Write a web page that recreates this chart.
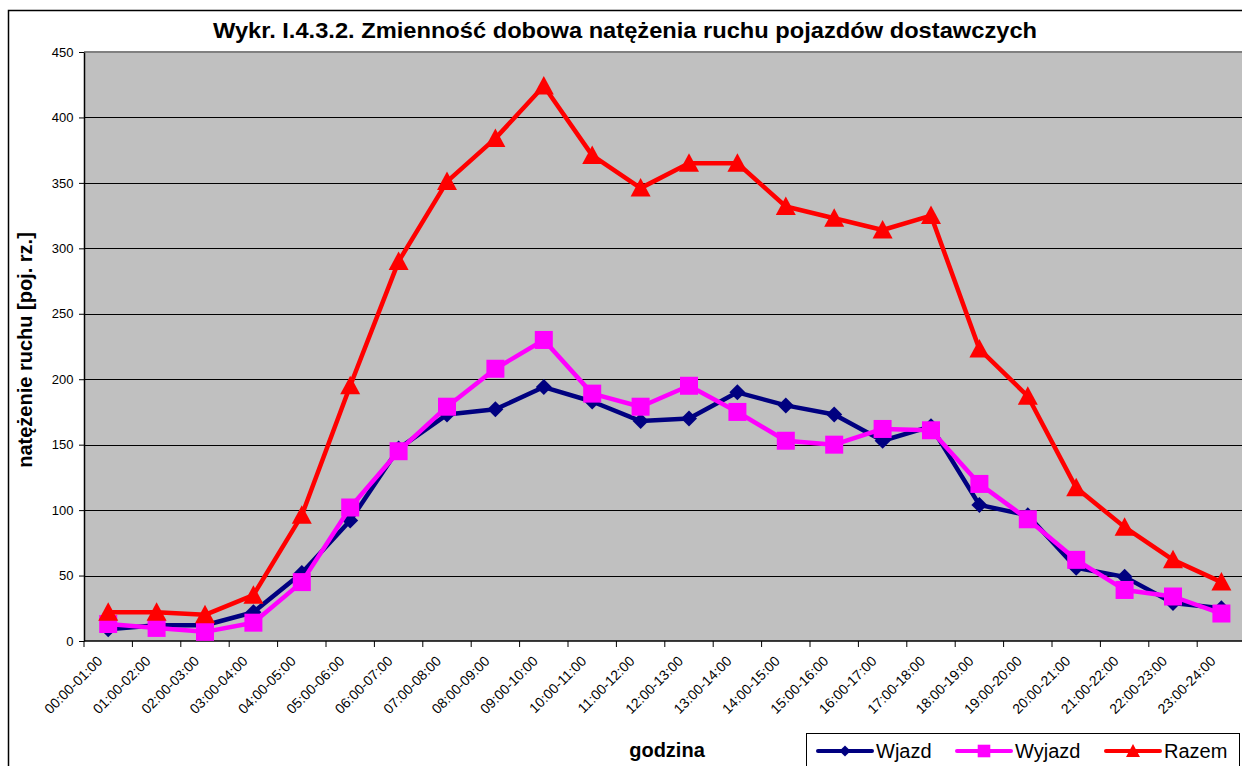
<!DOCTYPE html>
<html>
<head>
<meta charset="utf-8">
<script src="https://cdn.jsdelivr.net/npm/d3@7"></script>
<style>
  body { margin: 0; background: #fff; }
  svg { display: block; font-family: Arial, 'Liberation Sans', sans-serif; }
</style>
</head>
<body>
<div id="chart"></div>
<script>
let hours = [
  '00:00-01:00', '01:00-02:00', '02:00-03:00', '03:00-04:00', '04:00-05:00', '05:00-06:00',
  '06:00-07:00', '07:00-08:00', '08:00-09:00', '09:00-10:00', '10:00-11:00', '11:00-12:00',
  '12:00-13:00', '13:00-14:00', '14:00-15:00', '15:00-16:00', '16:00-17:00', '17:00-18:00',
  '18:00-19:00', '19:00-20:00', '20:00-21:00', '21:00-22:00', '22:00-23:00', '23:00-24:00'
]

let wjazd = [9, 12, 12, 22, 52, 92, 147, 173, 177, 194, 183, 168, 170, 190, 180, 173, 153, 164, 104, 96, 56, 49, 29, 25]
let wyjazd = [13, 10, 7, 14, 45, 102, 145, 179, 208, 230, 189, 179, 195, 175, 153, 150, 162, 161, 120, 93, 62, 39, 34, 21]
let razem = [22, 22, 20, 35, 96, 195, 290, 351, 384, 424, 371, 346, 365, 365, 332, 323, 314, 325, 223, 187, 117, 87, 62, 45]

let yTicks = [0, 50, 100, 150, 200, 250, 300, 350, 400, 450]

let series = [
  { name: 'Wjazd', values: wjazd, color: '#000080', marker: 'diamond' },
  { name: 'Wyjazd', values: wyjazd, color: '#ff00ff', marker: 'square' },
  { name: 'Razem', values: razem, color: '#ff0000', marker: 'triangle' }
]

let width = 1242
let height = 766
let plot = { left: 84, top: 52, bottom: 641, step: 48.4 }

let svg = d3
  .select('#chart')
  .append('svg')
  .attr('width', width)
  .attr('height', height)

let x = d3
  .scaleBand()
  .domain(hours)
  .range([plot.left, plot.left + plot.step * hours.length])

let y = d3
  .scaleLinear()
  .domain([0, 450])
  .range([plot.bottom, plot.top])

let cx = d => x(d) + x.bandwidth() / 2

function markerPath(type, s) {
  let h = s / 2
  if (type === 'diamond') {
    return `M0,${-h}L${h},0L0,${h}L${-h},0Z`
  }
  if (type === 'square') {
    return `M${-h},${-h}H${h}V${h}H${-h}Z`
  }
  return `M0,${-h}L${h},${h * 0.85}L${-h},${h * 0.85}Z`
}

let markerSize = { diamond: 16, square: 18, triangle: 20 }

// outer frame
svg
  .append('path')
  .attr('d', `M8.5,${height + 2}V10.5H${width + 2}`)
  .attr('fill', 'none')
  .attr('stroke', '#000')
  .attr('stroke-width', 1.5)

svg
  .append('text')
  .attr('x', 625)
  .attr('y', 38)
  .attr('text-anchor', 'middle')
  .attr('font-size', 22)
  .attr('font-weight', 'bold')
  .attr('textLength', 824)
  .attr('lengthAdjust', 'spacingAndGlyphs')
  .text('Wykr. I.4.3.2. Zmienność dobowa natężenia ruchu pojazdów dostawczych')

// plot area
svg
  .append('rect')
  .attr('x', plot.left)
  .attr('y', plot.top)
  .attr('width', plot.step * hours.length + 10)
  .attr('height', plot.bottom - plot.top)
  .attr('fill', '#c0c0c0')

svg
  .append('line')
  .attr('x1', plot.left)
  .attr('x2', width)
  .attr('y1', plot.top)
  .attr('y2', plot.top)
  .attr('stroke', '#808080')
  .attr('stroke-width', 2)

svg
  .selectAll('.grid')
  .data(yTicks.slice(1, -1))
  .enter()
  .append('line')
  .attr('class', 'grid')
  .attr('x1', plot.left)
  .attr('x2', width)
  .attr('y1', d => Math.round(y(d)) + 0.5)
  .attr('y2', d => Math.round(y(d)) + 0.5)
  .attr('stroke', '#000')
  .attr('stroke-width', 1)

// y axis
let yAxis = svg
  .append('g')
  .attr('transform', `translate(${plot.left},0)`)
  .call(
    d3
      .axisLeft(y)
      .tickValues(yTicks)
      .tickSize(5)
      .tickSizeOuter(0)
      .tickPadding(5.5)
  )

yAxis.select('.domain').attr('stroke', '#000').attr('stroke-width', 1.5)
yAxis
  .selectAll('text')
  .attr('font-size', 13)
  .attr('font-family', 'Arial, Liberation Sans, sans-serif')
  .attr('fill', '#000')

// x axis
svg
  .append('line')
  .attr('x1', plot.left)
  .attr('x2', width)
  .attr('y1', plot.bottom)
  .attr('y2', plot.bottom)
  .attr('stroke', '#000')
  .attr('stroke-width', 1.5)

svg
  .selectAll('.x-tick')
  .data(hours)
  .enter()
  .append('line')
  .attr('class', 'x-tick')
  .attr('x1', d => x(d))
  .attr('x2', d => x(d))
  .attr('y1', plot.bottom)
  .attr('y2', plot.bottom + 6)
  .attr('stroke', '#000')

svg
  .selectAll('.x-label')
  .data(hours)
  .enter()
  .append('text')
  .attr('class', 'x-label')
  .attr('text-anchor', 'end')
  .attr('font-size', 14)
  .attr('transform', d => `translate(${cx(d) - 5},662) rotate(-45)`)
  .text(d => d)

svg
  .append('text')
  .attr('text-anchor', 'middle')
  .attr('font-size', 20)
  .attr('font-weight', 'bold')
  .attr('transform', 'translate(32,350) rotate(-90)')
  .text('natężenie ruchu [poj. rz.]')

svg
  .append('text')
  .attr('x', 667)
  .attr('y', 757)
  .attr('text-anchor', 'middle')
  .attr('font-size', 20)
  .attr('font-weight', 'bold')
  .text('godzina')

// series
let line = d3
  .line()
  .x((d, i) => cx(hours[i]))
  .y(d => y(d))

series.forEach(s => {
  let g = svg.append('g')

  g.append('path')
    .datum(s.values)
    .attr('d', line)
    .attr('fill', 'none')
    .attr('stroke', s.color)
    .attr('stroke-width', 4.5)
    .attr('stroke-linejoin', 'round')

  g.selectAll('path.marker')
    .data(s.values)
    .enter()
    .append('path')
    .attr('class', 'marker')
    .attr('d', markerPath(s.marker, markerSize[s.marker]))
    .attr('transform', (d, i) => `translate(${cx(hours[i])},${y(d)})`)
    .attr('fill', s.color)
})

// legend
let legend = svg.append('g')

legend
  .append('rect')
  .attr('x', 806.5)
  .attr('y', 733.5)
  .attr('width', 433)
  .attr('height', 60)
  .attr('fill', '#fff')
  .attr('stroke', '#000')

let legendX = [818, 957, 1106]

series.forEach((s, i) => {
  let lx = legendX[i]
  legend
    .append('line')
    .attr('x1', lx)
    .attr('x2', lx + 54)
    .attr('y1', 751)
    .attr('y2', 751)
    .attr('stroke', s.color)
    .attr('stroke-width', 4)
    .attr('stroke-linecap', 'round')

  legend
    .append('path')
    .attr('d', markerPath(s.marker, markerSize[s.marker] * 0.7))
    .attr('transform', `translate(${lx + 27},751)`)
    .attr('fill', s.color)

  legend
    .append('text')
    .attr('x', lx + 58)
    .attr('y', 758)
    .attr('font-size', 20)
    .text(s.name)
})
</script>
</body>
</html>
